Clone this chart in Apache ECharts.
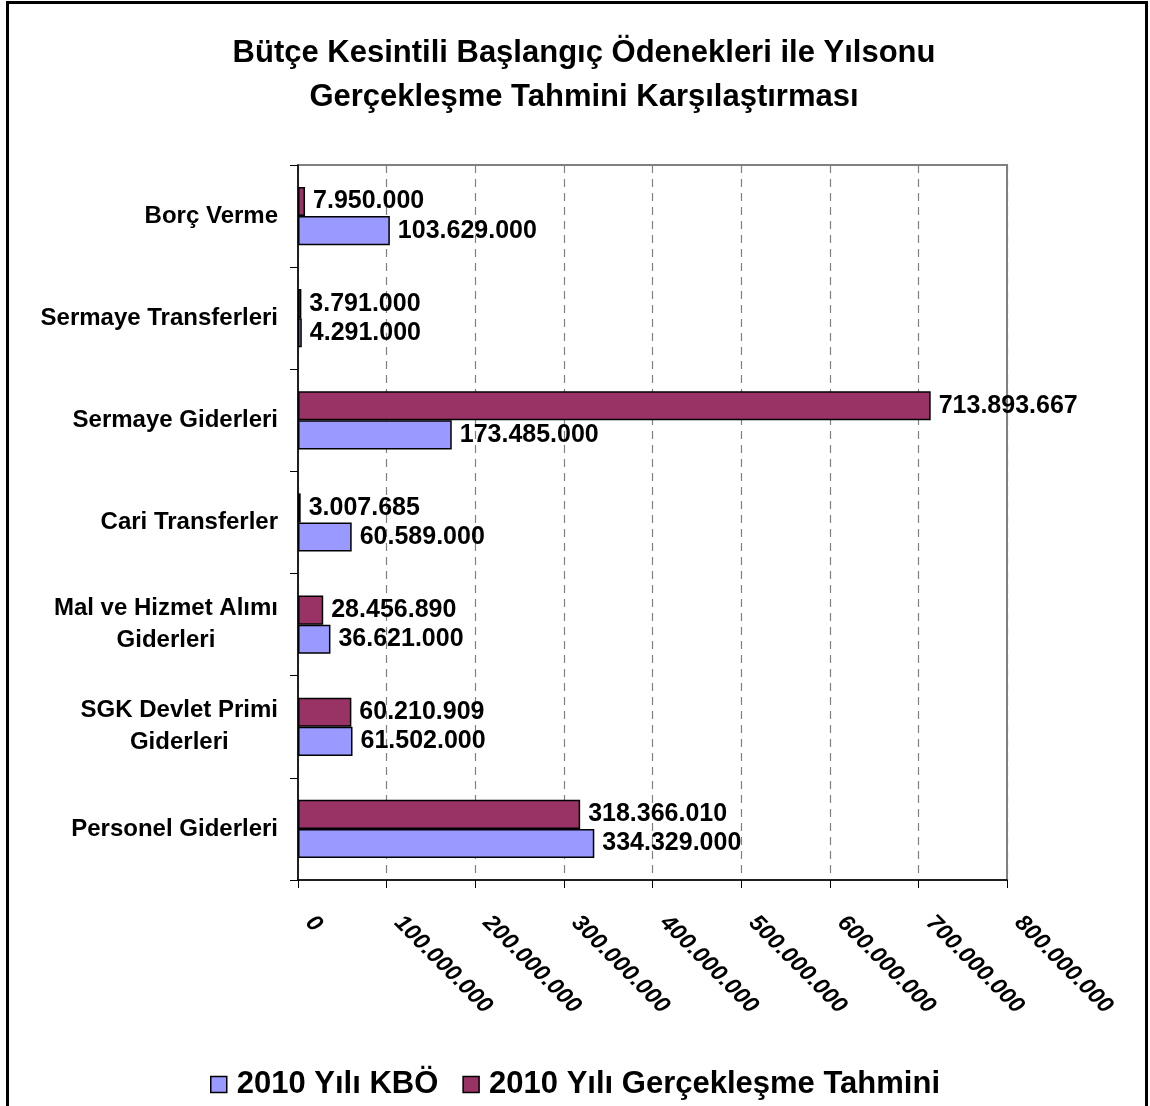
<!DOCTYPE html>
<html>
<head>
<meta charset="utf-8">
<script src="https://cdn.jsdelivr.net/npm/echarts@6/dist/echarts.min.js"></script>
<style>html,body{margin:0;padding:0;background:#fff}#c{width:1150px;height:1106px}</style>
</head>
<body>
<div id="c"></div>
<script>
// Categories listed bottom to top
const categories = ['Personel Giderleri', 'SGK Devlet Primi\nGiderleri', 'Mal ve Hizmet Alımı\nGiderleri', 'Cari Transferler', 'Sermaye Giderleri', 'Sermaye Transferleri', 'Borç Verme'];
const seriesNames = ['2010 Yılı KBÖ', '2010 Yılı Gerçekleşme Tahmini'];
const kboValues = [334329000, 61502000, 36621000, 60589000, 173485000, 4291000, 103629000];
const tahminValues = [318366010, 60210909, 28456890, 3007685, 713893667, 3791000, 7950000];
const xTicks = [0, 100000000, 200000000, 300000000, 400000000, 500000000, 600000000, 700000000, 800000000];
const titleText = 'Bütçe Kesintili Başlangıç Ödenekleri ile Yılsonu\nGerçekleşme Tahmini Karşılaştırması';

const FONT = '"Liberation Sans", Arial, sans-serif';
function fmt(v) { return String(v).replace(/\B(?=(\d{3})+(?!\d))/g, '.'); }

const chart = echarts.init(document.getElementById('c'), null, {renderer: 'canvas'});
const barLabel = {
  show: true, position: 'right', distance: 8,
  color: '#000', fontWeight: 'bold', fontSize: 25, fontFamily: FONT,
  formatter: p => fmt(p.value)
};
chart.setOption({
  animation: false,
  backgroundColor: '#fff',
  graphic: [{
    type: 'rect', silent: true,
    shape: {x: 7.5, y: 2.5, width: 1139, height: 1120},
    style: {fill: 'none', stroke: '#000', lineWidth: 3}
  }, {
    type: 'text', silent: true, x: 584, y: 31,
    style: {
      text: titleText, align: 'center', verticalAlign: 'top',
      fontFamily: FONT, fontWeight: 'bold', fontSize: 31, lineHeight: 44, fill: '#000'
    }
  }],
  legend: {
    bottom: 1, left: 'center',
    icon: 'rect', itemWidth: 16, itemHeight: 16, itemGap: 24,
    itemStyle: {borderColor: '#000', borderWidth: 1.5},
    textStyle: {fontFamily: FONT, fontWeight: 'bold', fontSize: 31, color: '#000', padding: [0, 0, 0, 5]},
    data: seriesNames
  },
  grid: {
    left: 298, right: 143, top: 165, bottom: 226,
    show: true, borderColor: '#808080', borderWidth: 2, backgroundColor: 'transparent'
  },
  xAxis: {
    type: 'value', min: 0, max: xTicks[xTicks.length - 1], interval: xTicks[1] - xTicks[0],
    axisLine: {show: true, lineStyle: {color: '#000', width: 1.5}},
    axisTick: {show: true, length: 8, lineStyle: {color: '#000'}},
    splitLine: {show: true, lineStyle: {color: '#808080', type: [8, 6], width: 1.2}},
    axisLabel: {
      rotate: -45, margin: 28, padding: [0, 0, 0, 16],
      fontFamily: FONT, fontWeight: 'bold', fontStyle: 'italic', fontSize: 23, color: '#000',
      formatter: v => fmt(v)
    }
  },
  yAxis: {
    type: 'category', data: categories,
    axisLine: {show: true, lineStyle: {color: '#000', width: 1.5}},
    axisTick: {show: true, length: 8, lineStyle: {color: '#000'}},
    splitLine: {show: false},
    axisLabel: {
      margin: 20, color: '#000', fontFamily: FONT, fontWeight: 'bold', fontSize: 24, lineHeight: 32,
      formatter: v => v.split('\n').map(s => '{c|' + s + '}').join('\n'),
      rich: {c: {align: 'center', fontFamily: FONT, fontWeight: 'bold', fontSize: 24, lineHeight: 32, color: '#000'}}
    }
  },
  series: [{
    name: seriesNames[1], type: 'bar', data: tahminValues,
    barGap: '0%', barCategoryGap: '43%',
    itemStyle: {color: '#993366', borderColor: '#000', borderWidth: 1.5},
    label: barLabel
  }, {
    name: seriesNames[0], type: 'bar', data: kboValues,
    barGap: '0%', barCategoryGap: '43%',
    itemStyle: {color: '#9999FF', borderColor: '#000', borderWidth: 1.5},
    label: barLabel
  }]
});
</script>
</body>
</html>
